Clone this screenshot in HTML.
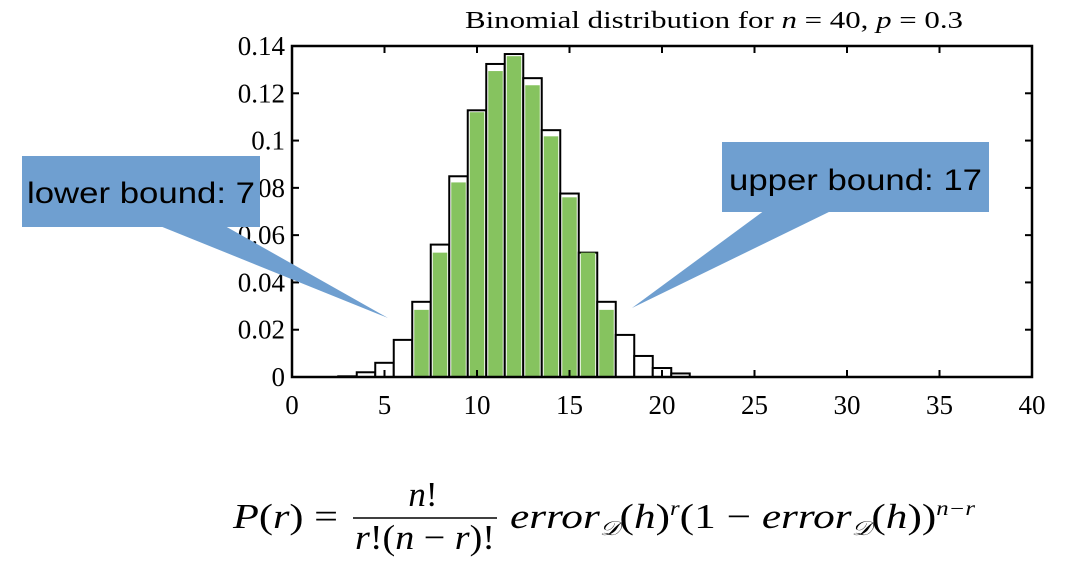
<!DOCTYPE html>
<html><head><meta charset="utf-8">
<style>
html,body{margin:0;padding:0;background:#fff;}
body{width:1074px;height:569px;overflow:hidden;position:relative;font-family:"Liberation Serif",serif;}
#chart{position:absolute;left:0;top:0;}
</style></head>
<body>
<svg id="chart" width="1074" height="569">
<g font-family="Liberation Serif, serif" font-size="35" fill="#000">
<text x="233" y="528" textLength="105" lengthAdjust="spacingAndGlyphs"><tspan font-style="italic">P</tspan>(<tspan font-style="italic">r</tspan>) =</text>
<text x="423" y="506" text-anchor="middle"><tspan font-style="italic">n</tspan>!</text>
<line x1="353" y1="518" x2="497" y2="518" stroke="#000" stroke-width="1.6"/>
<text x="355" y="549" textLength="140" lengthAdjust="spacingAndGlyphs"><tspan font-style="italic">r</tspan>!(<tspan font-style="italic">n</tspan> − <tspan font-style="italic">r</tspan>)!</text>
<text x="510" y="528" textLength="465" lengthAdjust="spacingAndGlyphs"><tspan font-style="italic">error</tspan><tspan font-size="20" font-style="italic" dy="7">𝒟</tspan><tspan dy="-7">(</tspan><tspan font-style="italic">h</tspan>)<tspan font-size="20" font-style="italic" dy="-13">r</tspan><tspan dy="13">(1 − </tspan><tspan font-style="italic">error</tspan><tspan font-size="20" font-style="italic" dy="7">𝒟</tspan><tspan dy="-7">(</tspan><tspan font-style="italic">h</tspan>))<tspan font-size="20" font-style="italic" dy="-13">n−r</tspan></text>
</g>
</svg>
<script>
const categories = [3,4,5,6,7,8,9,10,11,12,13,14,15,16,17,18,19,20,21];
const binomValues = [0.0003,0.002,0.006,0.0157,0.0318,0.056,0.0849,0.1128,0.1324,0.1366,0.1264,0.1044,0.0776,0.0526,0.0318,0.0178,0.0089,0.0038,0.0015];
const greenCategories = [7,8,9,10,11,12,13,14,15,16,17];
const greenValues = [0.0284,0.0526,0.0823,0.1120,0.1294,0.1357,0.1234,0.1018,0.0760,0.0526,0.0284];
const xTicks = [0,5,10,15,20,25,30,35,40];
const yTicks = [0,0.02,0.04,0.06,0.08,0.1,0.12,0.14];
const yTickLabels = ["0","0.02","0.04","0.06","0.08","0.1","0.12","0.14"];

const NS="http://www.w3.org/2000/svg";
const svg=document.getElementById('chart');
const X0=292,X1=1032,Y0=377,Y1=46;
const xs=v=>X0+(v/40)*(X1-X0);
const ys=v=>Y0-(v/0.14)*(Y0-Y1);
function mk(tag,attrs,parent){const e=document.createElementNS(NS,tag);for(const k in attrs)e.setAttribute(k,attrs[k]);(parent||svg).appendChild(e);return e;}

const t=mk('text',{x:465,y:28,'font-size':24,'font-family':'Liberation Serif, serif',textLength:498,lengthAdjust:'spacingAndGlyphs'});


t.innerHTML='Binomial distribution for <tspan font-style="italic">n</tspan> = 40, <tspan font-style="italic">p</tspan> = 0.3';

const bw=(X1-X0)/40;
categories.forEach((c,i)=>{
  const y=ys(binomValues[i]);
  const r=mk('rect',{x:xs(c)-bw/2,y:y,width:bw,height:Y0-y,fill:'#fff',stroke:'#000','stroke-width':2});
  
  
});
greenCategories.forEach((c,i)=>{
  const y=ys(greenValues[i]);
  const r=mk('rect',{x:xs(c)-bw/2+2,y:y,width:bw-4,height:Y0-y-1,fill:'#86c35f'});
  
  
});

const frame=mk('rect',{x:X0,y:Y1,width:X1-X0,height:Y0-Y1,fill:'none',stroke:'#000','stroke-width':2.5});



xTicks.forEach(v=>{
  const x=xs(v);
  mk('line',{x1:x,y1:Y0,x2:x,y2:Y0-7,stroke:'#000','stroke-width':2});
  mk('line',{x1:x,y1:Y1,x2:x,y2:Y1+7,stroke:'#000','stroke-width':2});
  const l=mk('text',{x:x,y:414,'text-anchor':'middle','font-size':27,'font-family':'Liberation Serif, serif'});
  
  
  l.textContent=v;
});
yTicks.forEach((v,i)=>{
  const y=ys(v);
  mk('line',{x1:X0,y1:y,x2:X0+7,y2:y,stroke:'#000','stroke-width':2});
  mk('line',{x1:X1,y1:y,x2:X1-7,y2:y,stroke:'#000','stroke-width':2});
  const l=mk('text',{x:285,y:y+9,'text-anchor':'end','font-size':27,'font-family':'Liberation Serif, serif'});
  
  
  l.textContent=yTickLabels[i];
});

const c1=mk('g',{});


mk('polygon',{points:'150,222 225,226 388,318',fill:'#6f9fd0'},c1);
mk('rect',{x:22,y:156,width:238,height:71,fill:'#6f9fd0'},c1);
const lt=mk('text',{x:27,y:203,'font-size':30,'font-family':'Liberation Sans, sans-serif',fill:'#000',textLength:228,lengthAdjust:'spacingAndGlyphs'},c1);
lt.textContent='lower bound: 7';

const c2=mk('g',{});


mk('polygon',{points:'765,210 833,210 632,308',fill:'#6f9fd0'},c2);
mk('rect',{x:722,y:142,width:267,height:70,fill:'#6f9fd0'},c2);
const ut=mk('text',{x:729,y:190,'font-size':30,'font-family':'Liberation Sans, sans-serif',fill:'#000',textLength:253,lengthAdjust:'spacingAndGlyphs'},c2);
ut.textContent='upper bound: 17';
</script>
</body></html>
